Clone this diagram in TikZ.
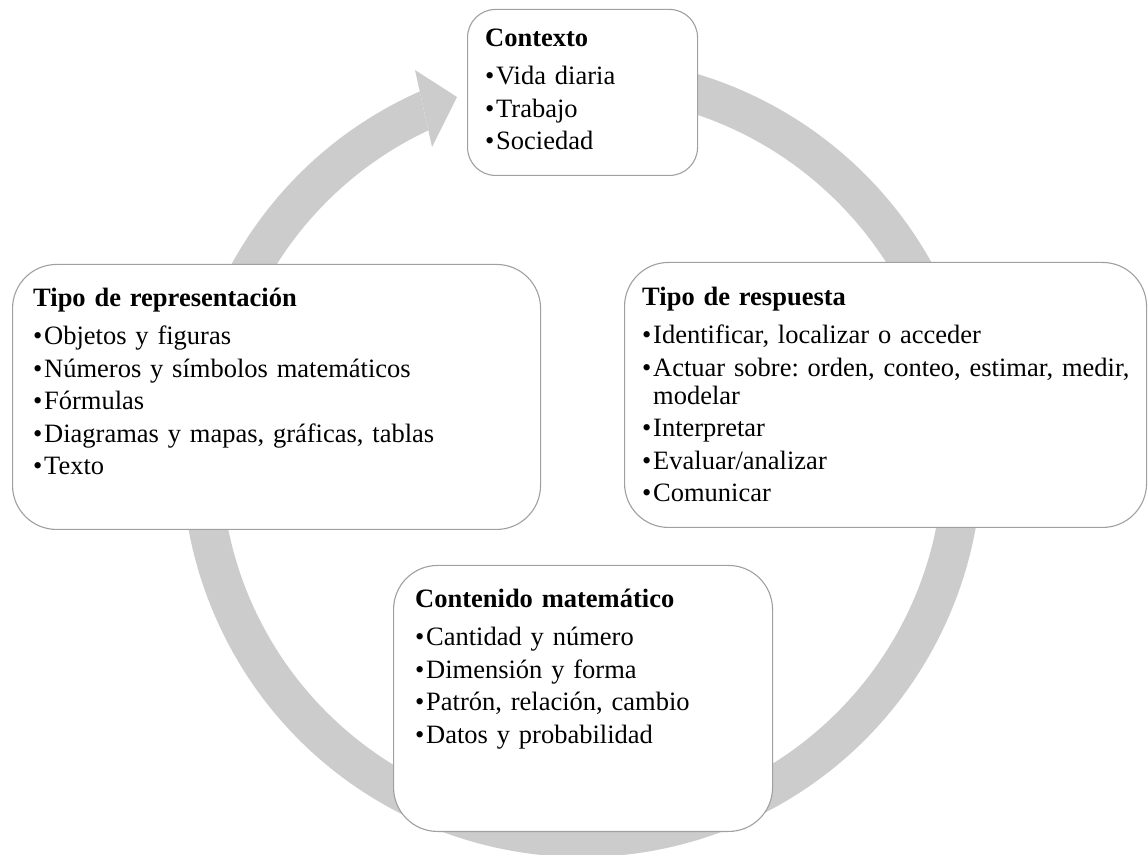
\documentclass[tikz,border=0pt]{standalone}
\usepackage{fontspec}
\setmainfont{Liberation Serif}
\usetikzlibrary{calc}

\definecolor{ringgray}{RGB}{204,204,204}
\definecolor{boxline}{RGB}{160,160,160}

% heading of a card, then bulleted entries with a hanging indent
\newcommand\cardhead[1]{\parskip=0pt\frenchspacing{\bfseries #1}\par\vspace{10pt}}
\newcommand\bitem[1]{\hangindent=11pt\hangafter=1\noindent\makebox[11pt][l]{\textbullet}#1\par\vspace{4.5pt}}

\tikzset{
  ringfill/.style={fill=ringgray, draw=none},
  card/.style={draw=boxline, line width=1.1pt, fill=white, inner sep=0pt,
               anchor=south west, rounded corners=#1},
  cardtext/.style={anchor=base west, inner sep=0pt, text width=#1, align=left,
                   font=\fontsize{26.5}{28}\selectfont}
}

\begin{document}
\begin{tikzpicture}[x=1pt,y=1pt]
\useasboundingbox (0,0) rectangle (1148,854);

% circular arrow behind the cards
\coordinate (C) at (582,397);
\fill[ringfill] ($(C)+(113.94:400)$) arc[start angle=113.94, end angle=455, radius=400]
  -- ($(C)+(455:361)$) arc[start angle=455, end angle=115.2, radius=361] -- cycle;
\coordinate (hA) at (415,784);
\coordinate (hT) at (457,757);
\coordinate (hB) at (432,707);
\fill[ringfill] (hA) -- (hT) -- (hB) -- cycle;

% cards
\node[card=28pt, minimum width=230pt, minimum height=166pt] (ctx) at (467,678) {};
\node[card=44pt, minimum width=528pt, minimum height=265pt] (rep) at (12,324) {};
\node[card=44pt, minimum width=522pt, minimum height=265pt] (resp) at (624,326) {};
\node[card=44pt, minimum width=379pt, minimum height=266pt] (cont) at (393,22) {};

% card contents
\node[cardtext=200pt] (ctx-t) at (485,807) {%
  \cardhead{Contexto}
  \bitem{Vida diaria}
  \bitem{Trabajo}
  \bitem{Sociedad}};

\node[cardtext=490pt] (rep-t) at (33,547) {%
  \cardhead{Tipo de representación}
  \bitem{Objetos y figuras}
  \bitem{Números y símbolos matemáticos}
  \bitem{Fórmulas}
  \bitem{Diagramas y mapas, gráficas, tablas}
  \bitem{Texto}};

\node[cardtext=495pt] (resp-t) at (642,548) {%
  \cardhead{Tipo de respuesta}
  \bitem{Identificar, localizar o acceder}
  \bitem{Actuar sobre: orden, conteo, estimar, medir,\newline modelar}
  \bitem{Interpretar}
  \bitem{Evaluar/analizar}
  \bitem{Comunicar}};

\node[cardtext=350pt] (cont-t) at (415,246) {%
  \cardhead{Contenido matemático}
  \bitem{Cantidad y número}
  \bitem{Dimensión y forma}
  \bitem{Patrón, relación, cambio}
  \bitem{Datos y probabilidad}};
\end{tikzpicture}
\end{document}
